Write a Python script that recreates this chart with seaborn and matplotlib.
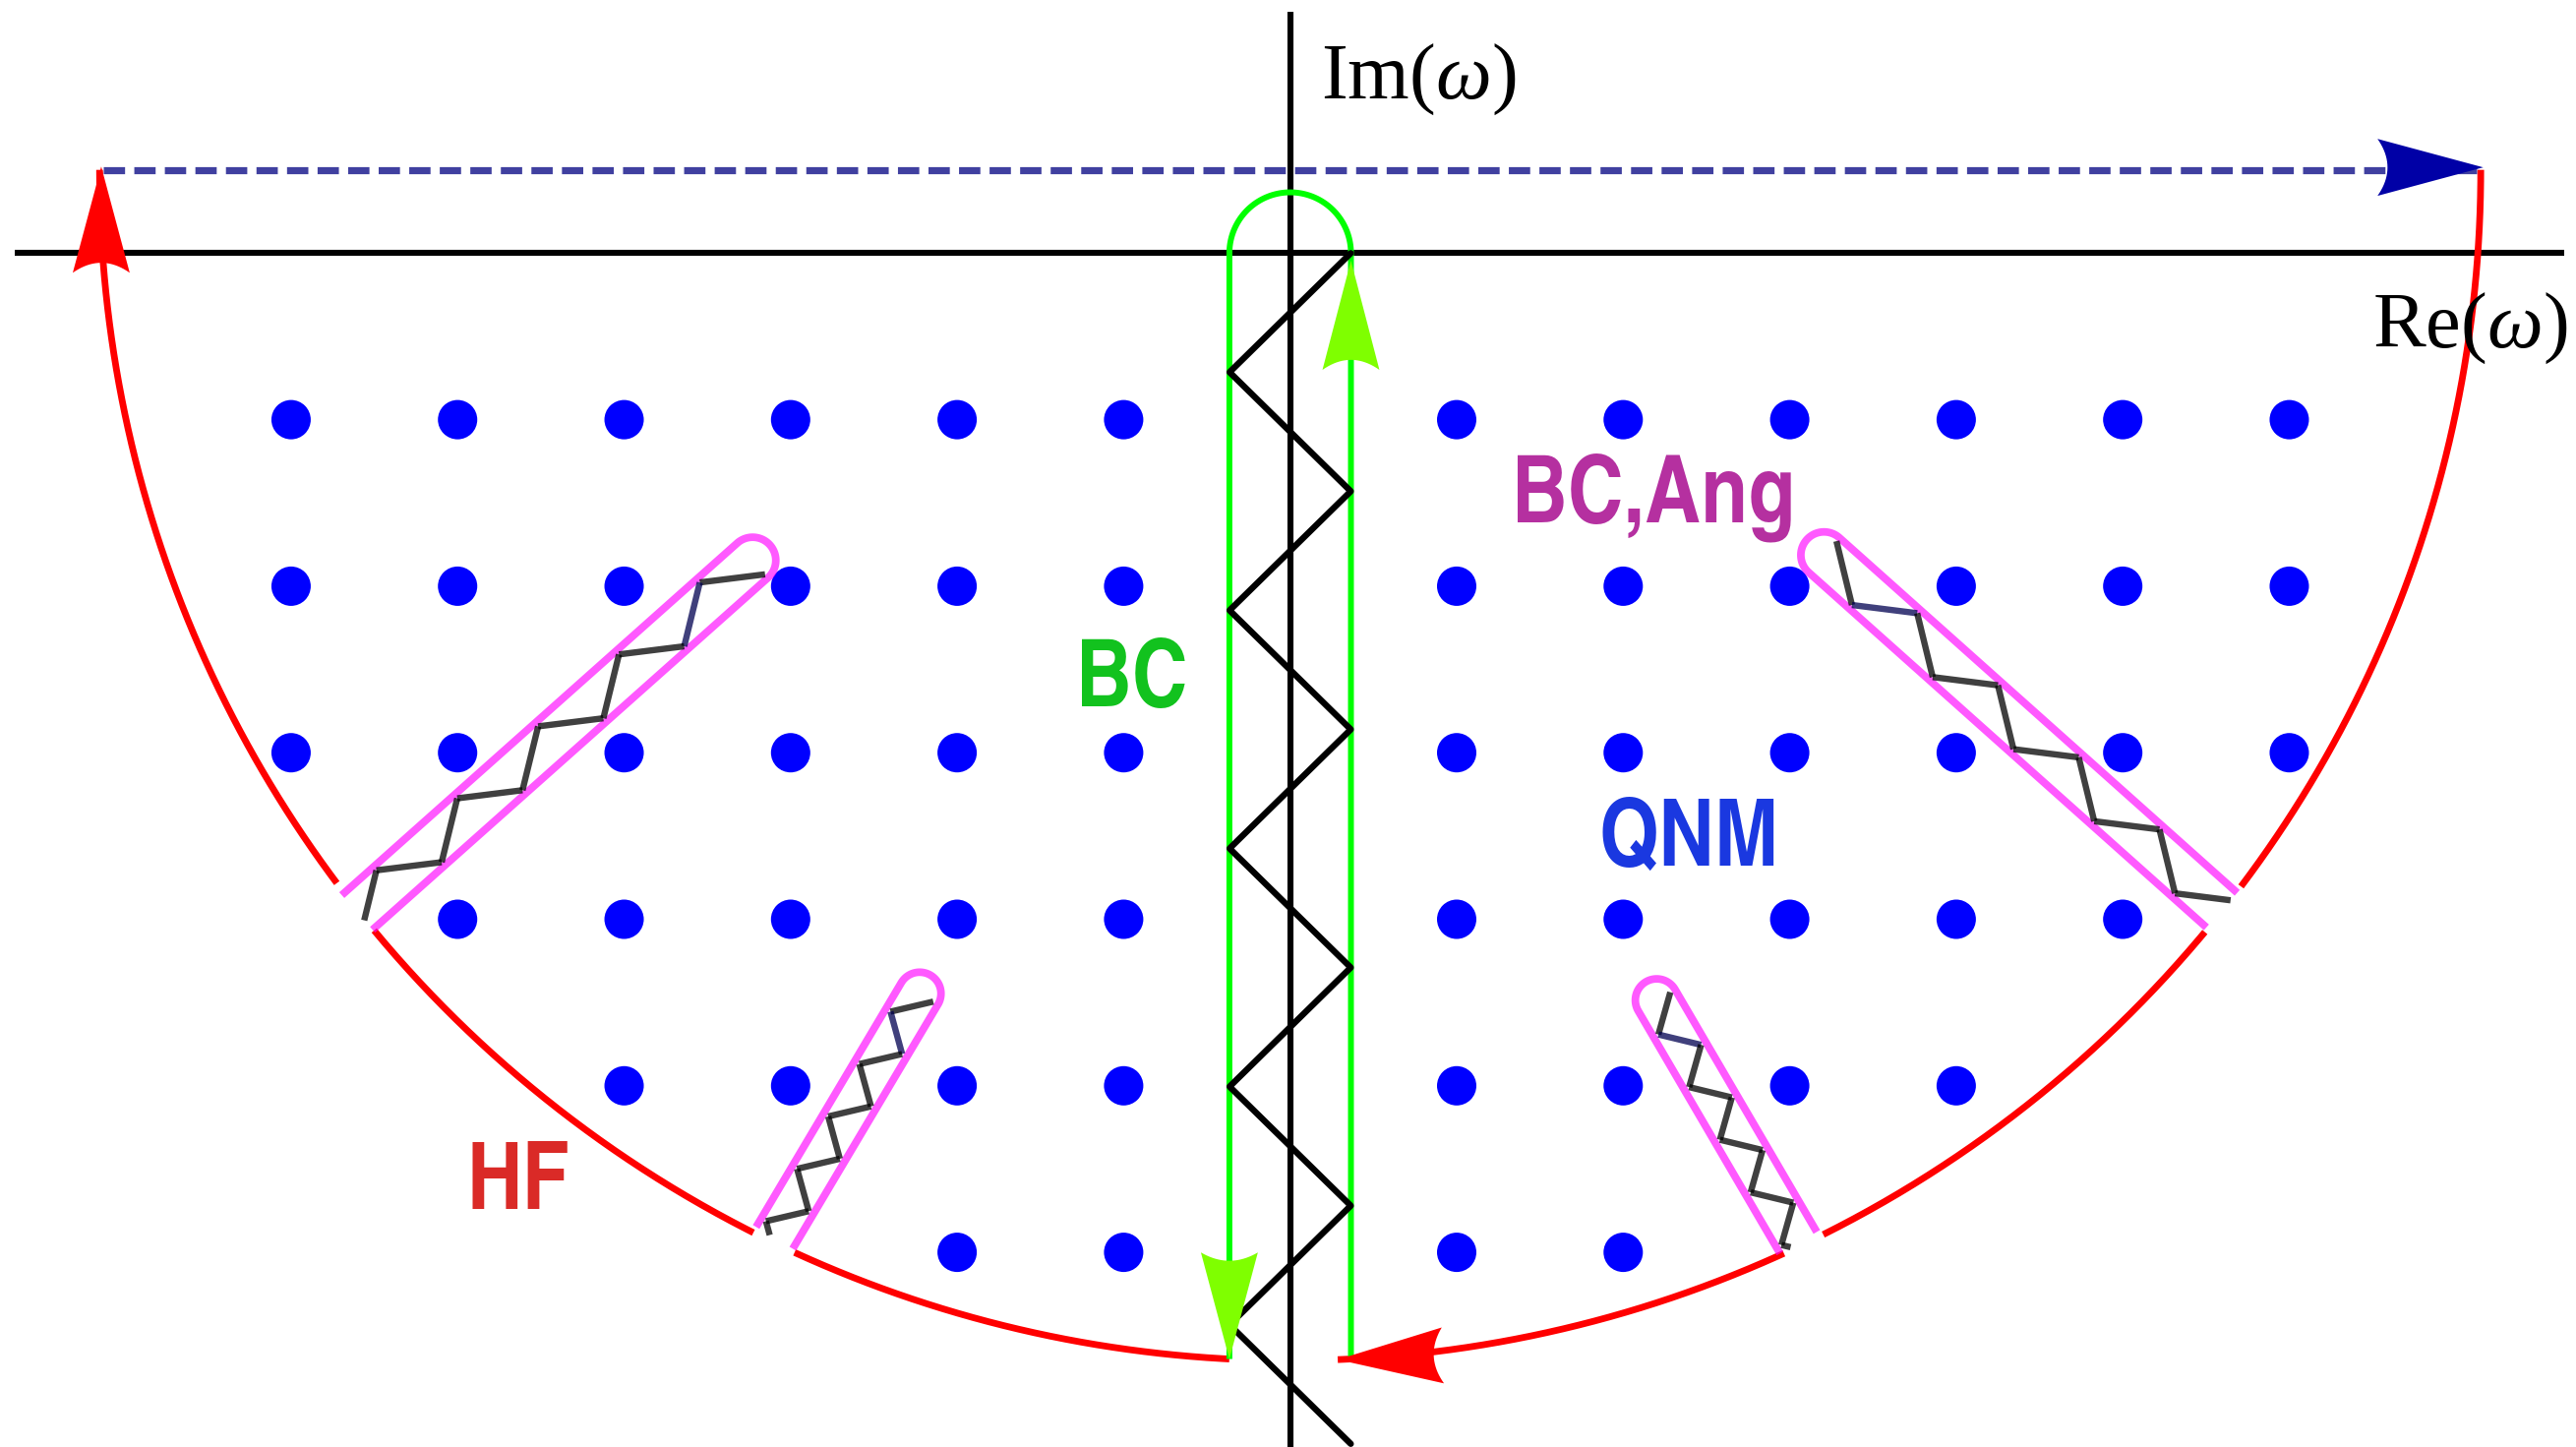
import numpy as np
import matplotlib
matplotlib.use("Agg")
import matplotlib.pyplot as plt
from matplotlib.patches import Polygon
import seaborn as sns

# ---------------- data: complex frequency plane (units of QNM spacing) ----------------
# quasinormal-mode frequencies, row by row in Im(omega)
qnm_re = [-6, -5, -4, -3, -2, -1, 1, 2, 3, 4, 5, 6,
          -6, -5, -4, -3, -2, -1, 1, 2, 3, 4, 5, 6,
          -6, -5, -4, -3, -2, -1, 1, 2, 3, 4, 5, 6,
          -5, -4, -3, -2, -1, 1, 2, 3, 4, 5,
          -4, -3, -2, -1, 1, 2, 3, 4,
          -2, -1, 1, 2]
qnm_im = ([-1] * 12 + [-2] * 12 + [-3] * 12 + [-4] * 10 + [-5] * 8 + [-6] * 4)

# large closing semicircle (HF contour)
arc_center_im = 0.5
arc_radius = 7.15
arc_pieces_deg = [(180.0, 216.8), (219.7, 243.2), (245.4, 267.07),
                  (272.29, 294.5), (296.6, 320.2), (323.0, 360.0)]

# branch cut along the imaginary axis (BC) and its keyhole contour
keyhole_half = 0.365
bc_zig_re = [0.364, -0.364, 0.364, -0.364, 0.364, -0.364, 0.364, -0.364, 0.364, -0.364, 0.364]
bc_zig_im = [0.0, -0.715, -1.43, -2.145, -2.86, -3.575, -4.29, -5.005, -5.72, -6.435, -7.15]

# angular branch cuts (BC,Ang): cap centre, open end, half width, zigzag step and amplitude
cut_cap_re = [-3.228, -2.225, 3.206, 2.201]
cut_cap_im = [-1.845, -4.446, -1.813, -4.486]
cut_end_re = [-5.603, -3.097, 5.595, 3.052]
cut_end_im = [-3.959, -5.913, -3.945, -5.942]
cut_halfwidth = [0.139, 0.128, 0.139, 0.128]
cut_step = [0.325, 0.183, 0.325, 0.183]
cut_amp = [0.112, 0.095, 0.112, 0.095]

# ---------------- style ----------------
sns.set_theme(style="white")
plt.rcParams["mathtext.fontset"] = "custom"
plt.rcParams["mathtext.rm"] = "Liberation Serif"
plt.rcParams["mathtext.it"] = "Liberation Serif:italic"
label_family = ["TeX Gyre Heros Cn", "Roboto Condensed", "DejaVu Sans"]

RED = "#FF0000"
GREEN = "#00FF00"
GREEN_HEAD = "#7FFF00"
MAGENTA = "#FF00FF"
NAVY_HEAD = "#0000A6"

fig = plt.figure(figsize=(26.19, 14.71), dpi=100)
ax = fig.add_axes([0, 0, 1, 1])
ax.set_xlim(-7.748, 7.722)
ax.set_ylim(-7.169, 1.520)
ax.set_axis_off()


def arrowhead(tip, direction_deg, length, halfwidth, notch, color, z):
    d = np.array([np.cos(np.radians(direction_deg)), np.sin(np.radians(direction_deg))])
    n = np.array([-d[1], d[0]])
    tip = np.asarray(tip, dtype=float)
    back = tip - length * d
    s = np.linspace(1, -1, 21)
    rear = back + np.outer(s * halfwidth, n) + np.outer(notch * (1 - s ** 2), d)
    pts = np.vstack([tip, rear])
    ax.add_patch(Polygon(pts, closed=True, facecolor=color, edgecolor="none", zorder=z))


# axes of the complex plane
ax.plot([-7.66, 7.65], [0, 0], color="black", lw=4.4, solid_capstyle="butt", zorder=2)
ax.plot([0, 0], [-7.2, 1.447], color="black", lw=4.4, solid_capstyle="butt", zorder=2)

# QNM lattice
sns.scatterplot(x=qnm_re, y=qnm_im, ax=ax, s=830, color="#0000FF",
                edgecolor="none", linewidth=0, legend=False, zorder=3)

# HF arc pieces
for a0, a1 in arc_pieces_deg:
    th = np.radians(np.linspace(a0, a1, 200))
    ax.plot(arc_radius * np.cos(th), arc_center_im + arc_radius * np.sin(th),
            color=RED, lw=4.9, solid_capstyle="butt", zorder=3)

# dashed line above the real axis
ax.plot([-arc_radius + 0.02, arc_radius], [arc_center_im, arc_center_im],
        color="#000080", alpha=0.75, lw=5.2, dashes=(3.0, 1.3), zorder=3)
arrowhead((arc_radius + 0.015, arc_center_im + 0.015), 0, 0.635, 0.171, 0.06, NAVY_HEAD, 6)

# red arrowheads on the arc
arrowhead((-arc_radius + 0.01, arc_center_im + 0.02), 90, 0.638, 0.171, 0.06, RED, 6)
th_tip = np.radians(272.29)
tip_bottom = (arc_radius * np.cos(th_tip), arc_center_im + arc_radius * np.sin(th_tip))
tan_dir = np.degrees(np.arctan2(-np.cos(th_tip), np.sin(th_tip)))
arrowhead(tip_bottom, tan_dir, 0.632, 0.168, 0.055, RED, 6)

# keyhole contour around the imaginary-axis cut
y_bot = arc_center_im - np.sqrt(arc_radius ** 2 - keyhole_half ** 2)
th = np.linspace(0, np.pi, 100)
kx = np.concatenate([[keyhole_half, keyhole_half], keyhole_half * np.cos(th), [-keyhole_half, -keyhole_half]])
ky = np.concatenate([[y_bot, 0], keyhole_half * np.sin(th), [0, y_bot]])
ax.plot(kx, ky, color=GREEN, lw=4.3, solid_capstyle="butt", zorder=3)
arrowhead((-keyhole_half, y_bot), -90, 0.64, 0.171, 0.05, GREEN_HEAD, 6)
arrowhead((keyhole_half, -0.045), 90, 0.656, 0.171, 0.06, GREEN_HEAD, 6)

# zigzag branch cut on the imaginary axis
sns.lineplot(x=bc_zig_re, y=bc_zig_im, ax=ax, sort=False, estimator=None,
             color="black", lw=4.6, zorder=4)

# angular branch cuts with their keyhole loops
for cx, cy, ex, ey, hw, step, amp in zip(cut_cap_re, cut_cap_im, cut_end_re, cut_end_im,
                                         cut_halfwidth, cut_step, cut_amp):
    c = np.array([cx, cy])
    e = np.array([ex, ey])
    L = np.linalg.norm(e - c)
    u = (e - c) / L
    n = np.array([-u[1], u[0]])
    phi0 = np.arctan2(n[1], n[0])
    ang = phi0 + np.linspace(0, np.pi, 60)
    cap = c + hw * np.column_stack([np.cos(ang), np.sin(ang)])
    loop = np.vstack([e + hw * n, cap, e - hw * n])
    ax.plot(loop[:, 0], loop[:, 1], color=MAGENTA, alpha=0.65, lw=5.6,
            solid_capstyle="butt", zorder=4)

    kmax = int(np.ceil(L / step))
    t = np.arange(kmax + 1) * step
    p = amp * (-1.0) ** np.arange(kmax + 1)
    keep = t < L
    t_pts = np.append(t[keep], L)
    p_pts = np.append(p[keep], np.interp(L, t, p))
    pts = c + np.outer(t_pts, u) + np.outer(p_pts, n)
    for i in range(len(pts) - 1):
        col = "#000050" if i == 1 else "black"
        ax.plot(pts[i:i + 2, 0], pts[i:i + 2, 1], color=col, alpha=0.75, lw=4.6,
                solid_capstyle="butt", zorder=5)

# axis labels
ax.text(0.185, 0.929, r"Im($\omega$)", family="Liberation Serif", fontsize=58,
        ha="left", va="baseline", color="black", zorder=7)
ax.text(6.50, -0.565, r"Re($\omega$)", family="Liberation Serif", fontsize=58,
        ha="left", va="baseline", color="black", zorder=7)

# region labels
for txt, x, y, col in [("BC", -0.952, -2.722, "#12C21E"),
                       ("BC,Ang", 2.181, -1.611, "#B530A0"),
                       ("QNM", 2.395, -3.678, "#1A38E0"),
                       ("HF", -4.634, -5.739, "#DA2A27")]:
    ax.text(x, y, txt, family=label_family, fontweight="bold", fontsize=69,
            ha="center", va="baseline", color=col, zorder=7)

fig.savefig("out.png", dpi=100)
